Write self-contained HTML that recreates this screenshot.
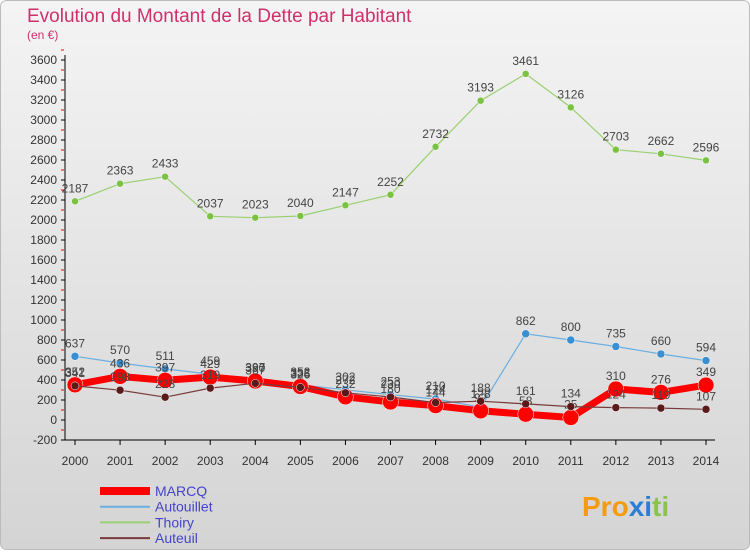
<!DOCTYPE html>
<html><head><meta charset="utf-8"><style>
body{margin:0;width:750px;height:550px;overflow:hidden;font-family:"Liberation Sans",sans-serif}
</style></head><body>
<svg width="750" height="550" xmlns="http://www.w3.org/2000/svg">
<defs><linearGradient id="bg" x1="0" y1="0" x2="0" y2="1"><stop offset="0" stop-color="#f4f4f4"/><stop offset="1" stop-color="#d4d4d4"/></linearGradient></defs>
<rect x="0.5" y="0.5" width="749" height="549" rx="6" fill="url(#bg)" stroke="#bbb"/>
<text x="27" y="22" font-size="19" fill="#d0306a">Evolution du Montant de la Dette par Habitant</text>
<text x="27" y="39" font-size="12" fill="#d0306a">(en €)</text>
<g id="axes"></g><g id="series"></g><g id="legend"></g>
<text x="582" y="516" font-size="28" font-weight="bold" fill="#f39c12">Pro<tspan fill="#2a7fd4">x</tspan><tspan fill="#2a7fd4">i</tspan><tspan fill="#8bc34a">ti</tspan></text>
</svg>
<script>
const years=[2000,2001,2002,2003,2004,2005,2006,2007,2008,2009,2010,2011,2012,2013,2014];
const yTicks=[-200,0,200,400,600,800,1000,1200,1400,1600,1800,2000,2200,2400,2600,2800,3000,3200,3400,3600];
const marcq=[352,436,397,429,390,335,232,180,144,92,58,25,310,276,349];
const autouillet=[637,570,511,459,397,352,302,253,210,128,862,800,735,660,594];
const thoiry=[2187,2363,2433,2037,2023,2040,2147,2252,2732,3193,3461,3126,2703,2662,2596];
const auteuil=[341,298,228,319,367,326,272,230,174,188,161,134,124,119,107];
const NS="http://www.w3.org/2000/svg";
const X=i=>75+i*(631/14), Y=v=>420-v*0.1;
function mk(p,t,a){const e=document.createElementNS(NS,t);for(const k in a)e.setAttribute(k,a[k]);p.appendChild(e);return e;}
const ax=document.getElementById('axes');
const yl=mk(ax,'line',{x1:65,y1:55,x2:65,y2:440,stroke:'#000'});

const xl=mk(ax,'line',{x1:65,y1:440,x2:715,y2:440,stroke:'#000'});

yTicks.forEach(v=>{
 mk(ax,'line',{x1:61,y1:Y(v),x2:65,y2:Y(v),stroke:'#000'});
 mk(ax,'line',{x1:61,y1:Y(v+100),x2:64,y2:Y(v+100),stroke:'#e00'});
 const t=mk(ax,'text',{x:57,y:Y(v)+4,'font-size':12,'text-anchor':'end',fill:'#333'});t.textContent=v;
 
});
years.forEach((y,i)=>{
 mk(ax,'line',{x1:X(i),y1:440,x2:X(i),y2:445,stroke:'#000'});
 const t=mk(ax,'text',{x:X(i),y:465,'font-size':12,'text-anchor':'middle',fill:'#333'});t.textContent=y;
 
});
const sg=document.getElementById('series');
function series(name,data,color,w,r,dot){
 const g=mk(sg,'g',{});
 
 const l=mk(g,'polyline',{points:data.map((v,i)=>X(i)+','+Y(v)).join(' '),fill:'none',stroke:color,'stroke-width':w,'stroke-linejoin':'round'});
 
 data.forEach((v,i)=>{
  const c=mk(g,'circle',{cx:X(i),cy:Y(v),r:r,fill:dot,stroke:'#fff','stroke-width':0.5});
  
  const t=mk(g,'text',{x:X(i),y:Y(v)-9,'font-size':12,'text-anchor':'middle',fill:'#444'});t.textContent=v;
  
 });
}
series('thoiry',thoiry,'#99d070',1.2,3.5,'#7cc242');
series('autouillet',autouillet,'#6aaee0',1.2,4,'#3a8fd0');
series('marcq',marcq,'#ff0000',7,8,'#ff0000');
series('auteuil',auteuil,'#7a3a3a',1.2,4,'#5a1a1a');
const lg=document.getElementById('legend');
[['MARCQ','#ff0000',8],['Autouillet','#6aaee0',2],['Thoiry','#99d070',2],['Auteuil','#7a3a3a',2]].forEach((e,i)=>{
 const y=491+i*15.7;
 const g=mk(lg,'g',{});
 mk(g,'line',{x1:100,y1:y,x2:150,y2:y,stroke:e[1],'stroke-width':e[2]});
 const t=mk(g,'text',{x:155,y:y+5,'font-size':14,fill:'#4444cc'});t.textContent=e[0];
});
</script>
</body></html>
